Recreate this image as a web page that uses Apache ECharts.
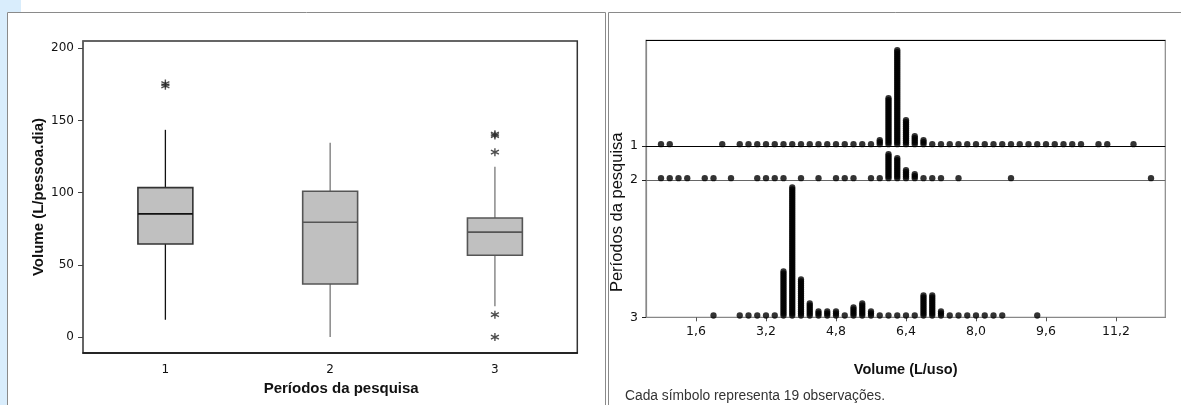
<!DOCTYPE html>
<html><head><meta charset="utf-8">
<script src="https://cdn.jsdelivr.net/npm/echarts@6/dist/echarts.min.js"></script>
<style>html,body{margin:0;padding:0;background:#fff}#c{width:1181px;height:405px}</style>
</head><body><div id="c"></div>
<script>
// ---- Left panel: boxplot of Volume (L/pessoa.dia) by period ----
const periods = ['1', '2', '3'];
const whiskerLow = [12, 0, 21.3];
const q1 = [64.5, 36.8, 56.7];
const median = [85.3, 79.5, 72.7];
const q3 = [103.5, 101, 82.5];
const whiskerHigh = [143.5, 134.6, 118];
const outlierPeriod = [0, 0, 2, 2, 2, 2, 2];
const outlierValue = [174, 175.5, 139.5, 140.5, 128, 15.5, 0];
const volumeTicks = [0, 50, 100, 150, 200];

// ---- Right panel: dot plot of Volume (L/uso), each dot = 19 observations ----
const usoTicks = [1.6, 3.2, 4.8, 6.4, 8.0, 9.6, 11.2];
const rowLabels = ['1', '2', '3'];
const row1Bins = [0.8, 1.0, 2.2, 2.6, 2.8, 3.0, 3.2, 3.4, 3.6, 3.8, 4.0, 4.2, 4.4, 4.6, 4.8, 5.0, 5.2, 5.4, 5.6,
  5.8, 6.0, 6.2, 6.4, 6.6, 6.8,
  7.0, 7.2, 7.4, 7.6, 7.8, 8.0, 8.2, 8.4, 8.6, 8.8, 9.0, 9.2, 9.4, 9.6, 9.8, 10.0, 10.2, 10.4, 10.8, 11.0, 11.6];
const row1Counts = [1, 1, 1, 1, 1, 1, 1, 1, 1, 1, 1, 1, 1, 1, 1, 1, 1, 1, 1,
  3, 24, 48, 13, 5, 3,
  1, 1, 1, 1, 1, 1, 1, 1, 1, 1, 1, 1, 1, 1, 1, 1, 1, 1, 1, 1, 1];
const row2Bins = [0.8, 1.0, 1.2, 1.4, 1.8, 2.0, 2.4, 3.0, 3.2, 3.4, 3.6, 4.0, 4.4, 4.8, 5.0, 5.2, 5.6, 5.8,
  6.0, 6.2, 6.4, 6.6, 6.8, 7.0, 7.2, 7.6, 8.8, 12.0];
const row2Counts = [1, 1, 1, 1, 1, 1, 1, 1, 1, 1, 1, 1, 1, 1, 1, 1, 1, 1,
  13, 11, 5, 3, 1, 1, 1, 1, 1, 1];
const row3Bins = [2.0, 2.6, 2.8, 3.0, 3.2, 3.4, 3.6, 3.8, 4.0, 4.2, 4.4, 4.6, 4.8, 5.0, 5.2, 5.4, 5.6,
  5.8, 6.0, 6.2, 6.4, 6.6, 6.8, 7.0, 7.2, 7.4, 7.6, 7.8, 8.0, 8.2, 8.4, 8.6, 9.4];
const row3Counts = [1, 1, 1, 1, 1, 1, 23, 65, 19, 7, 3, 3, 3, 1, 5, 7, 3,
  1, 1, 1, 1, 1, 11, 11, 3, 1, 1, 1, 1, 1, 1, 1, 1];

// layout of the dot-plot rows (in dot units)
const rowBase = [85.65, 68.65, 0];
const dotTop = 138.5;

const rows = [[row1Bins, row1Counts], [row2Bins, row2Counts], [row3Bins, row3Counts]];
const dots = [];
rows.forEach(([bins, counts], r) => {
  bins.forEach((b, i) => {
    for (let k = 0; k < counts[i]; k++) dots.push([b, rowBase[r] + 0.9 + k]);
  });
});

const boxStroke = ['#333', '#555', '#555'];
const whiskerStroke = ['#111', '#777', '#777'];
const medianStroke = ['#111', '#555', '#555'];

const asterisk = 'path://M4,0L4,8M0.55,2L7.45,6M0.55,6L7.45,2';
const FT = 'DejaVu Sans';
const FA = 'Liberation Sans';

const chart = echarts.init(document.getElementById('c'));
chart.setOption({
  animation: false,
  backgroundColor: '#fff',
  title: {
    text: 'Cada símbolo representa 19 observações.',
    left: 620, top: 384,
    textStyle: { fontSize: 13.8, fontWeight: 'normal', color: '#333', fontFamily: FA }
  },
  graphic: [
    { type: 'rect', z: -10, shape: { x: 0, y: 0, width: 7, height: 405 }, style: { fill: '#d9edfc' } },
    { type: 'rect', z: -10, shape: { x: 0, y: 0, width: 21, height: 12 }, style: { fill: '#d9edfc' } },
    { type: 'rect', shape: { x: 7.5, y: 12.5, width: 598, height: 420 }, style: { fill: 'none', stroke: '#8a8a8a', lineWidth: 1 } },
    { type: 'rect', shape: { x: 608.5, y: 12.5, width: 600, height: 420 }, style: { fill: 'none', stroke: '#8a8a8a', lineWidth: 1 } }
  ],
  grid: [
    { left: 83, top: 41, width: 494.3, height: 312, show: true, borderColor: '#333', borderWidth: 1.5, backgroundColor: 'transparent' },
    { left: 646, top: 40.3, width: 519.3, height: 277, show: true, borderColor: '#888', borderWidth: 1.2, backgroundColor: 'transparent' }
  ],
  xAxis: [
    {
      gridIndex: 0, type: 'category', data: periods,
      axisLine: { onZero: false, lineStyle: { color: '#111', width: 1.5 } },
      axisTick: { alignWithLabel: true, length: 4, lineStyle: { color: '#333' } },
      axisLabel: { margin: 11, fontSize: 12, color: '#111', fontFamily: FT },
      name: 'Períodos da pesquisa', nameLocation: 'middle', nameGap: 28,
      nameTextStyle: { fontSize: 15, fontWeight: 'bold', color: '#111', fontFamily: FA, padding: [0, 0, 0, 22] }
    },
    {
      gridIndex: 1, type: 'value', min: 0.457, max: 12.327,
      axisLine: { onZero: false, lineStyle: { color: '#888', width: 1.2 } },
      axisTick: { customValues: usoTicks, length: 4, lineStyle: { color: '#555' } },
      axisLabel: { customValues: usoTicks, formatter: v => v.toFixed(1).replace('.', ','), margin: 8, fontSize: 12.5, color: '#111', fontFamily: FT },
      splitLine: { show: false },
      name: 'Volume (L/uso)', nameLocation: 'middle', nameGap: 45,
      nameTextStyle: { fontSize: 14.5, fontWeight: 'bold', color: '#111', fontFamily: FA }
    }
  ],
  yAxis: [
    {
      gridIndex: 0, type: 'value', min: -11, max: 205,
      axisLine: { show: true, onZero: false, lineStyle: { color: '#666', width: 1.5 } },
      axisTick: { show: true, customValues: volumeTicks, length: 5, lineStyle: { color: '#444' } },
      axisLabel: { customValues: volumeTicks, margin: 9, fontSize: 12, color: '#111', fontFamily: FT },
      splitLine: { show: false },
      name: 'Volume (L/pessoa.dia)', nameLocation: 'middle', nameGap: 37,
      nameTextStyle: { fontSize: 15, fontWeight: 'bold', color: '#111', fontFamily: FA }
    },
    {
      gridIndex: 1, type: 'value', min: 0, max: dotTop,
      axisLine: { show: true, onZero: false, lineStyle: { color: '#888', width: 1.2 } },
      axisTick: { show: true, customValues: rowBase, length: 4, lineStyle: { color: '#222' } },
      axisLabel: {
        customValues: rowBase, margin: 8, fontSize: 12.5, color: '#111', fontFamily: FT,
        formatter: v => { const i = rowBase.findIndex(b => Math.abs(b - v) < 0.01); return i >= 0 ? rowLabels[i] : ''; }
      },
      splitLine: { show: false },
      name: 'Períodos da pesquisa', nameLocation: 'middle', nameGap: 12,
      nameTextStyle: { fontSize: 16.5, color: '#111', fontFamily: FA, padding: [0, 67, 0, 0] }
    }
  ],
  series: [
    {
      type: 'custom', xAxisIndex: 0, yAxisIndex: 0,
      data: periods.map((p, i) => [i, whiskerLow[i], q1[i], median[i], q3[i], whiskerHigh[i]]),
      encode: { x: 0, y: [1, 2, 3, 4, 5] },
      renderItem: (params, api) => {
        const i = api.value(0);
        const w = api.size([1, 0])[0] / 3;
        const pLow = api.coord([i, api.value(1)]);
        const pQ1 = api.coord([i, api.value(2)]);
        const pMed = api.coord([i, api.value(3)]);
        const pQ3 = api.coord([i, api.value(4)]);
        const pHigh = api.coord([i, api.value(5)]);
        const x = pLow[0];
        return {
          type: 'group', children: [
            { type: 'line', shape: { x1: x, y1: pLow[1], x2: x, y2: pQ1[1] }, style: { stroke: whiskerStroke[i], lineWidth: 1.3 } },
            { type: 'line', shape: { x1: x, y1: pQ3[1], x2: x, y2: pHigh[1] }, style: { stroke: whiskerStroke[i], lineWidth: 1.3 } },
            { type: 'rect', shape: { x: x - w / 2, y: pQ3[1], width: w, height: pQ1[1] - pQ3[1] }, style: { fill: '#c0c0c0', stroke: boxStroke[i], lineWidth: 1.6 } },
            { type: 'line', shape: { x1: x - w / 2, y1: pMed[1], x2: x + w / 2, y2: pMed[1] }, style: { stroke: medianStroke[i], lineWidth: 1.6 } }
          ]
        };
      }
    },
    {
      type: 'scatter', xAxisIndex: 0, yAxisIndex: 0,
      data: outlierPeriod.map((p, i) => [p, outlierValue[i]]),
      symbol: asterisk, symbolSize: 8,
      itemStyle: { color: 'rgba(0,0,0,0)', borderColor: '#222', borderWidth: 1.4 }
    },
    {
      type: 'scatter', xAxisIndex: 1, yAxisIndex: 1,
      data: dots, symbol: 'circle', symbolSize: 6.3,
      itemStyle: { color: '#000' }, z: 3,
      markLine: {
        silent: true, symbol: 'none', label: { show: false }, z: 1,
        data: [
          { yAxis: rowBase[0], lineStyle: { color: '#000', width: 1.2, type: 'solid' } },
          { yAxis: rowBase[1], lineStyle: { color: '#666', width: 1.2, type: 'solid' } },
          { yAxis: dotTop, lineStyle: { color: '#000', width: 1.2, type: 'solid' } }
        ]
      }
    }
  ]
});
</script></body></html>
